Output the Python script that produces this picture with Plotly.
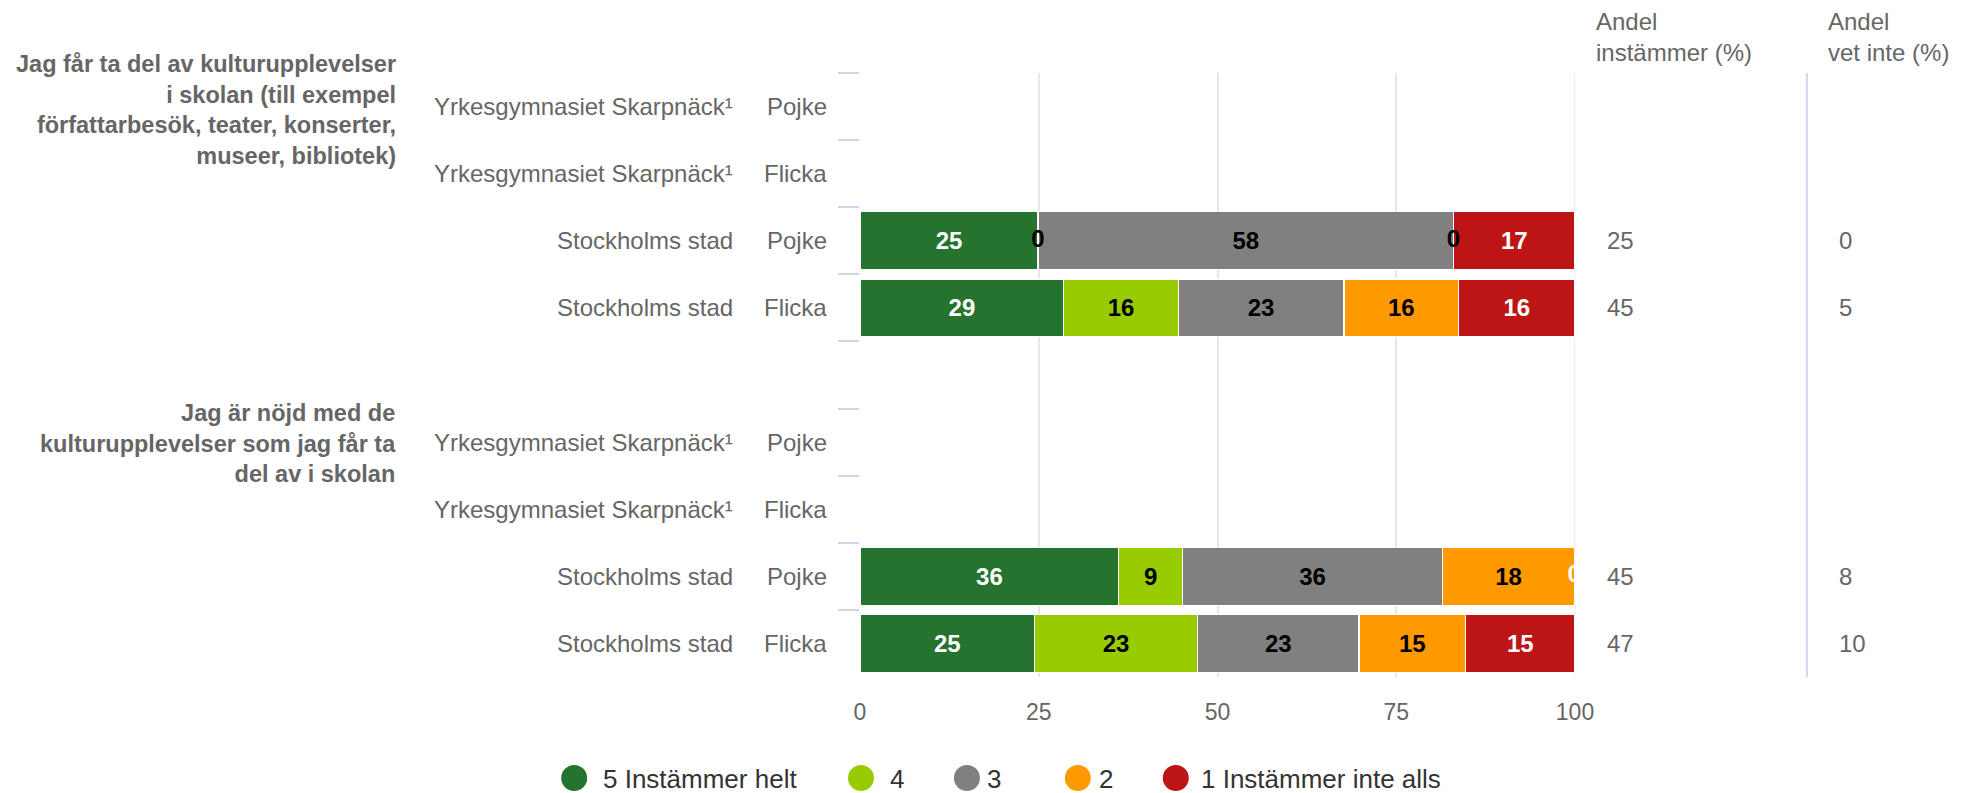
import plotly.graph_objects as go

# ---------------- data ----------------
group_labels = [
    "Jag får ta del av kulturupplevelser<br>i skolan (till exempel<br>författarbesök, teater, konserter,<br>museer, bibliotek)",
    "Jag är nöjd med de<br>kulturupplevelser som jag får ta<br>del av i skolan",
]
row_ids = ["g1_yrk_p", "g1_yrk_f", "g1_sth_p", "g1_sth_f", "gap",
           "g2_yrk_p", "g2_yrk_f", "g2_sth_p", "g2_sth_f"]
row_school = ["Yrkesgymnasiet Skarpnäck¹", "Yrkesgymnasiet Skarpnäck¹", "Stockholms stad", "Stockholms stad", "",
              "Yrkesgymnasiet Skarpnäck¹", "Yrkesgymnasiet Skarpnäck¹", "Stockholms stad", "Stockholms stad"]
row_gender = ["Pojke", "Flicka", "Pojke", "Flicka", "",
              "Pojke", "Flicka", "Pojke", "Flicka"]

series_names = ["5 Instämmer helt", "4", "3", "2", "1 Instämmer inte alls"]
series_colors = ["#267330", "#99cc00", "#808080", "#ff9900", "#bd1515"]
label_colors = ["#ffffff", "#000000", "#000000", "#000000", "#ffffff"]

# bar widths (percent) per series, per row
v5 = [None, None, 24.9, 28.5, None, None, None, 36.2, 24.4]
v4 = [None, None, 0.0, 16.0, None, None, None, 8.9, 22.8]
v3 = [None, None, 58.1, 23.2, None, None, None, 36.4, 22.6]
v2 = [None, None, 0.0, 16.0, None, None, None, 18.4, 14.9]
v1 = [None, None, 17.0, 16.3, None, None, None, 0.0, 15.3]
# printed labels per series, per row
l5 = [None, None, 25, 29, None, None, None, 36, 25]
l4 = [None, None, 0, 16, None, None, None, 9, 23]
l3 = [None, None, 58, 23, None, None, None, 36, 23]
l2 = [None, None, 0, 16, None, None, None, 18, 15]
l1 = [None, None, 17, 16, None, None, None, 0, 15]

andel_instammer = [None, None, 25, 45, None, None, None, 45, 47]
andel_vet_inte = [None, None, 0, 5, None, None, None, 8, 10]

x_ticks = [0, 25, 50, 75, 100]

# ---------------- layout constants ----------------
OFF = 8                      # page body margin
W, H = 1972 - OFF, 793 - OFF
PL, PR, PT, PB = 860, 1575.5, 73, 677   # plot area in reference pixels
FONT = "Liberation Sans, Arial, Helvetica, sans-serif"


def px_x(p):
    return (p - PL) / (PR - PL)


def px_y(p):
    return (PB - p) / (PB - PT)


values = [v5, v4, v3, v2, v1]
labels = [l5, l4, l3, l2, l1]

fig = go.Figure()

for name, col, tcol, vals, labs in zip(series_names, series_colors, label_colors, values, labels):
    fig.add_trace(go.Bar(
        x=vals, y=row_ids, orientation="h", name=name,
        marker=dict(color=col, line=dict(color="#ffffff", width=1.2)),
        width=0.864,
        text=[("" if (l is None or v is None or v == 0) else str(l)) for l, v in zip(labs, vals)],
        texttemplate="%{text}",
        textposition="inside",
        insidetextanchor="middle",
        textfont=dict(family=FONT, size=24, color=tcol, weight="bold"),
        constraintext="none",
        showlegend=False, hoverinfo="skip",
    ))

# labels of zero-width segments, placed at their stacked position
for i, (vals, labs, tcol) in enumerate(zip(values, labels, label_colors)):
    zx, zy, zt = [], [], []
    for r, v in enumerate(vals):
        if v is not None and v == 0:
            base = sum(values[k][r] for k in range(i))
            zx.append(base)
            zy.append(row_ids[r])
            zt.append(str(labs[r]))
    if zx:
        fig.add_trace(go.Scatter(
            x=zx, y=zy, mode="text", text=zt, textposition="middle center",
            textfont=dict(family=FONT, size=24, color=tcol, weight="bold"),
            cliponaxis=False, showlegend=False, hoverinfo="skip",
        ))

annotations = []
# side columns values
for colx, vals in [(1605.5, andel_instammer), (1837.5, andel_vet_inte)]:
    for rid, v in zip(row_ids, vals):
        if v is None:
            continue
        annotations.append(dict(text=str(v), xref="paper", yref="y", x=px_x(colx), y=rid,
                                xanchor="left", yanchor="middle", showarrow=False,
                                font=dict(family=FONT, size=24, color="#666666")))
# column headers
annotations.append(dict(text="Andel<br>instämmer (%)", xref="paper", yref="paper",
                        x=px_x(1595), y=px_y(37), xanchor="left", yanchor="middle",
                        align="left", showarrow=False,
                        font=dict(family=FONT, size=24, color="#666666")))
annotations.append(dict(text="Andel<br>vet inte (%)", xref="paper", yref="paper",
                        x=px_x(1827), y=px_y(37), xanchor="left", yanchor="middle",
                        align="left", showarrow=False,
                        font=dict(family=FONT, size=24, color="#666666")))
# row labels
for rid, sch, gen in zip(row_ids, row_school, row_gender):
    if not sch:
        continue
    annotations.append(dict(text=sch, xref="paper", yref="y", x=px_x(735), y=rid,
                            xanchor="right", yanchor="middle", showarrow=False,
                            font=dict(family=FONT, size=24, color="#666666")))
    annotations.append(dict(text=gen, xref="paper", yref="y", x=px_x(829), y=rid,
                            xanchor="right", yanchor="middle", showarrow=False,
                            font=dict(family=FONT, size=24, color="#666666")))
# group labels
for txt, cy in zip(group_labels, [110, 443]):
    annotations.append(dict(text=txt, xref="paper", yref="paper", x=px_x(398), y=px_y(cy),
                            xanchor="right", yanchor="middle", align="right", showarrow=False,
                            font=dict(family=FONT, size=23.5, color="#666666", weight="bold")))

# custom legend (circles + text)
shapes = []
legend_circle_x = [574, 861, 967, 1078, 1176]
legend_text_x = [601, 888, 985, 1097, 1199]
for name, col, cx, tx in zip(series_names, series_colors, legend_circle_x, legend_text_x):
    shapes.append(dict(type="circle", xref="paper", yref="paper",
                       xsizemode="pixel", ysizemode="pixel",
                       xanchor=px_x(cx), yanchor=px_y(778),
                       x0=-13, x1=13, y0=-13, y1=13,
                       fillcolor=col, line=dict(width=0)))
    annotations.append(dict(text=name, xref="paper", yref="paper", x=px_x(tx), y=px_y(779),
                            xanchor="left", yanchor="middle", showarrow=False,
                            font=dict(family=FONT, size=26, color="#333333")))

# right edge grid line (x = 100) and column divider
shapes.append(dict(type="line", xref="x", yref="paper", x0=100, x1=100, y0=0, y1=1,
                   line=dict(color="#e6e6e6", width=1.5), layer="below"))
shapes.append(dict(type="line", xref="paper", yref="paper",
                   x0=px_x(1807.5), x1=px_x(1807.5), y0=0, y1=1,
                   line=dict(color="#ccd6eb", width=2)))

fig.update_layout(
    width=W, height=H,
    margin=dict(l=PL - OFF, r=W - (PR - OFF), t=PT - OFF, b=H - (PB - OFF), pad=0),
    barmode="stack",
    plot_bgcolor="#ffffff", paper_bgcolor="#ffffff",
    font=dict(family=FONT, size=24, color="#666666"),
    showlegend=False,
    annotations=annotations,
    shapes=shapes,
    xaxis=dict(range=[0, 100.0001], tickvals=x_ticks, ticktext=[str(t) for t in x_ticks],
               showgrid=True, gridcolor="#e6e6e6", gridwidth=1.5, zeroline=False,
               showline=False, ticks="", tickfont=dict(family=FONT, size=23, color="#666666"),
               ticklabelstandoff=19, fixedrange=True),
    yaxis=dict(type="category", categoryorder="array", categoryarray=row_ids,
               range=[len(row_ids) - 0.5, -0.5], showticklabels=False,
               tickson="boundaries", ticks="outside", ticklen=21, tickcolor="#ccd6eb",
               tickwidth=1.5, showgrid=False, zeroline=False, showline=False, fixedrange=True),
)

fig.write_html("out.html")
